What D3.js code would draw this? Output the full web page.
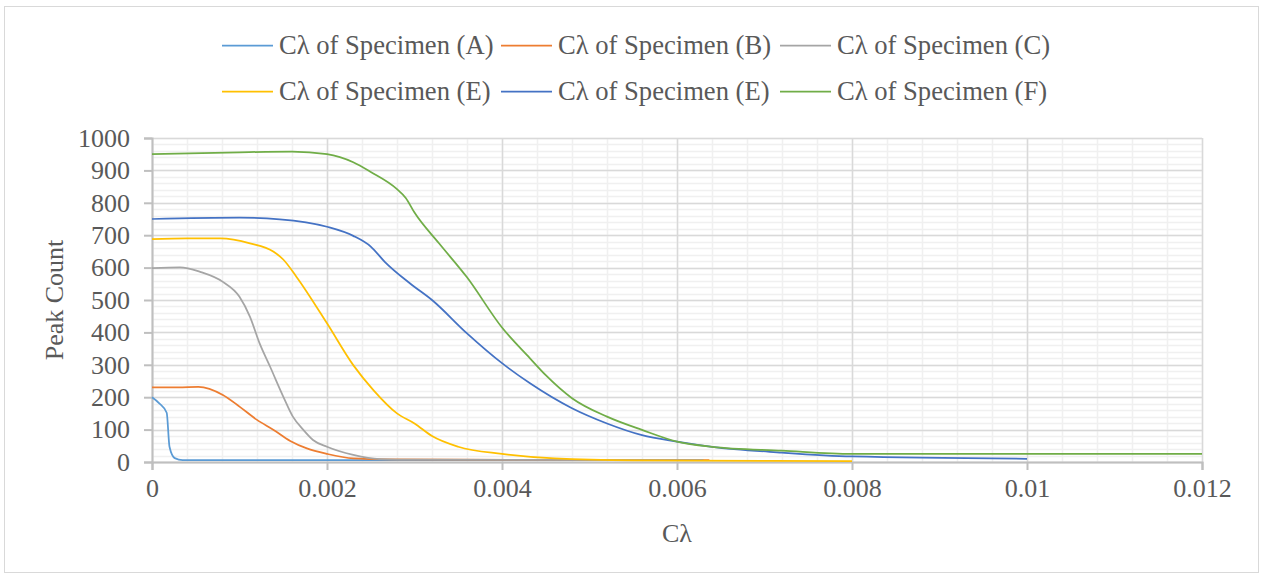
<!DOCTYPE html>
<html>
<head>
<meta charset="utf-8">
<script src="https://cdn.jsdelivr.net/npm/d3@7"></script>
<style>
  body { margin: 0; background: #fff; }
</style>
</head>
<body>
<svg id="chart" width="1264" height="578"></svg>
<script>
// series names + colours
var seriesNames = ["Cλ of Specimen (A)", "Cλ of Specimen (B)", "Cλ of Specimen (C)",
                   "Cλ of Specimen (E)", "Cλ of Specimen (E)", "Cλ of Specimen (F)"];
var seriesColors = ["#5B9BD5", "#ED7D31", "#A5A5A5", "#FFC000", "#4472C4", "#70AD47"];

// values (x = Cλ, y = peak count)
var xA = [0, 0.00008, 0.000168, 0.0002, 0.00026, 0.00035, 0.001, 0.003, 0.0063];
var yA = [200, 182, 152, 47, 12, 6, 6, 6, 6];

var xB = [0, 0.0003, 0.00053, 0.00081, 0.001, 0.0012, 0.00139, 0.00158, 0.00177, 0.002, 0.0023, 0.0027, 0.0035, 0.00637];
var yB = [230, 230, 232, 207, 171, 130, 99, 65, 42, 25, 11, 8, 7, 6];

var xC = [0, 0.00032, 0.00055, 0.00081, 0.001, 0.00112, 0.00123, 0.00135, 0.0015, 0.00161, 0.00173, 0.00184, 0.002, 0.0023, 0.0026, 0.003, 0.0063];
var yC = [598, 601, 587, 556, 510, 448, 366, 294, 202, 140, 99, 68, 47, 22, 9, 7, 6];

var xE1 = [0, 0.0004, 0.00078, 0.00112, 0.00139, 0.0015, 0.00165, 0.002, 0.0023, 0.00253, 0.0028, 0.003, 0.0032, 0.0035, 0.004, 0.0046, 0.0055, 0.008];
var yE1 = [688, 690, 690, 675, 649, 625, 572, 428, 299, 222, 150, 119, 80, 47, 25, 11, 5, 3];

var xE2 = [0, 0.001, 0.00146, 0.002, 0.0023, 0.0025, 0.00266, 0.00295, 0.0032, 0.0036, 0.004, 0.00432, 0.0048, 0.0052, 0.0056, 0.006, 0.0064, 0.0072, 0.008, 0.01];
var yE2 = [750, 754, 749, 726, 698, 665, 618, 551, 500, 397, 305, 243, 166, 119, 83, 63, 47, 29, 17, 10];

var xF = [0, 0.001, 0.0016, 0.002, 0.0023, 0.0025, 0.0028, 0.0029, 0.003, 0.00328, 0.0036, 0.004, 0.00432, 0.0045, 0.0048, 0.0052, 0.0056, 0.006, 0.0064, 0.0072, 0.008, 0.012];
var yF = [950, 956, 958, 950, 925, 895, 842, 815, 770, 675, 570, 415, 320, 268, 197, 140, 99, 63, 47, 35, 25, 25];

var xTicks = [0, 0.002, 0.004, 0.006, 0.008, 0.01, 0.012];
var xTickLabels = ["0", "0.002", "0.004", "0.006", "0.008", "0.01", "0.012"];
var yTicks = [0, 100, 200, 300, 400, 500, 600, 700, 800, 900, 1000];

var allX = [xA, xB, xC, xE1, xE2, xF];
var allY = [yA, yB, yC, yE1, yE2, yF];

// layout (plot box)
var plotLeft = 152, plotRight = 1202, plotTop = 138, plotBottom = 462;
var fontFam = "'Liberation Serif', 'Times New Roman', serif";
var textCol = "#595959";

var svg = d3.select("#chart")
  .style("font-family", fontFam);

// outer frame
svg.append("rect")
  .attr("x", 4.5).attr("y", 6.5)
  .attr("width", 1254).attr("height", 566)
  .attr("fill", "#fff")
  .attr("stroke", "#d9d9d9")
  .attr("stroke-width", 1);

var x = d3.scaleLinear().domain([0, 0.012]).range([plotLeft, plotRight]);
var y = d3.scaleLinear().domain([0, 1000]).range([plotBottom, plotTop]);

var grid = svg.append("g");

function vLines(vals, col) {
  grid.append("g").selectAll("line")
    .data(vals)
    .enter().append("line")
    .attr("x1", function(d) { return Math.round(x(d)) + 0.5; })
    .attr("x2", function(d) { return Math.round(x(d)) + 0.5; })
    .attr("y1", plotTop).attr("y2", plotBottom)
    .attr("stroke", col).attr("stroke-width", 1.5);
}
function hLines(vals, col) {
  grid.append("g").selectAll("line")
    .data(vals)
    .enter().append("line")
    .attr("x1", plotLeft).attr("x2", plotRight)
    .attr("y1", function(d) { return Math.round(y(d)) + 0.5; })
    .attr("y2", function(d) { return Math.round(y(d)) + 0.5; })
    .attr("stroke", col).attr("stroke-width", 1.5);
}

// minor then major grid
vLines(d3.range(0, 0.0120001, 0.0004), "#f0f0f0");
hLines(d3.range(0, 1000.1, 20), "#f0f0f0");
vLines(xTicks, "#d9d9d9");
hLines(yTicks, "#d9d9d9");

// axes
var xAxis = d3.axisBottom(x)
  .tickValues(xTicks)
  .tickSize(8)
  .tickFormat(function(d, i) { return xTickLabels[i]; });

var gx = svg.append("g")
  .attr("transform", "translate(0," + plotBottom + ")")
  .call(xAxis)
  .attr("font-family", fontFam)
  .attr("font-size", 26);
gx.select(".domain").attr("stroke", "#bfbfbf").attr("stroke-width", 2);
gx.selectAll(".tick line").attr("stroke", "#bfbfbf").attr("stroke-width", 2);
gx.selectAll(".tick text")
  .attr("y", 17)
  .attr("dy", "0.71em")
  .attr("fill", textCol);

var yAxis = d3.axisLeft(y)
  .tickValues(yTicks)
  .tickSize(8)
  .tickFormat(d3.format("d"));

var gy = svg.append("g")
  .attr("transform", "translate(" + plotLeft + ",0)")
  .call(yAxis)
  .attr("font-family", fontFam)
  .attr("font-size", 26);
gy.select(".domain").attr("stroke", "#bfbfbf").attr("stroke-width", 2);
gy.selectAll(".tick line").attr("stroke", "#bfbfbf").attr("stroke-width", 2);
gy.selectAll(".tick text")
  .attr("x", -22)
  .attr("fill", textCol);

// series lines
var line = d3.line()
  .x(function(d) { return x(d[0]); })
  .y(function(d) { return y(d[1]); })
  .curve(d3.curveMonotoneX);

for (var i = 0; i < allX.length; i++) {
  var pts = allX[i].map(function(v, j) { return [v, allY[i][j]]; });
  svg.append("path")
    .datum(pts)
    .attr("d", line)
    .attr("fill", "none")
    .attr("stroke", seriesColors[i])
    .attr("stroke-width", 1.75);
}

// axis titles
svg.append("text")
  .attr("x", 677).attr("y", 542)
  .attr("text-anchor", "middle")
  .attr("font-size", 26)
  .attr("fill", textCol)
  .text("Cλ");

svg.append("text")
  .attr("transform", "translate(63,300) rotate(-90)")
  .attr("text-anchor", "middle")
  .attr("font-size", 26)
  .attr("fill", textCol)
  .text("Peak Count");

// legend (2 rows x 3)
var legItems = svg.append("g").selectAll("g")
  .data(seriesNames)
  .enter().append("g")
  .attr("transform", function(d, i) {
    return "translate(" + (222 + (i % 3) * 279) + "," + (45 + Math.floor(i / 3) * 46) + ")";
  });

legItems.append("line")
  .attr("x1", 0).attr("x2", 51)
  .attr("y1", 0.5).attr("y2", 0.5)
  .attr("stroke", function(d, i) { return seriesColors[i]; })
  .attr("stroke-width", 1.75);

legItems.append("text")
  .attr("x", 57).attr("y", 9)
  .attr("font-size", 26.6)
  .attr("fill", textCol)
  .text(function(d) { return d; });
</script>
</body>
</html>
